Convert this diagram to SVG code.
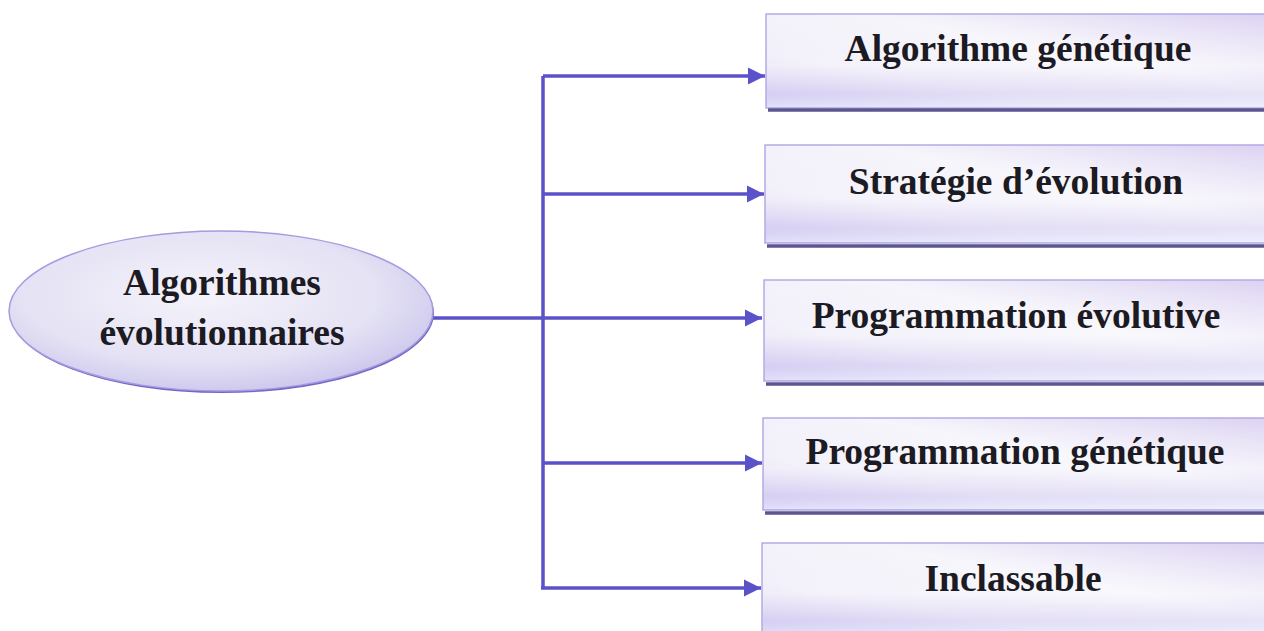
<svg xmlns="http://www.w3.org/2000/svg" width="1264" height="631" viewBox="0 0 1264 631">
<style>
.lbl{font-family:"Liberation Serif","Times New Roman",serif;font-weight:bold;font-size:37.5px;fill:#1c1a22;text-anchor:middle}
.conn{stroke:#5b52c9;stroke-width:3.5;fill:none}
.box{fill:url(#boxg);stroke:#b4aae6;stroke-width:1.5}
.boxv{fill:url(#boxv)}
.shadow{stroke:#5d5590;stroke-width:3.5}
</style>
<defs>
<linearGradient id="boxg" x1="0" y1="1" x2="1" y2="0">
<stop offset="0" stop-color="#d6ccf2"/>
<stop offset="0.3" stop-color="#eeebf8"/>
<stop offset="0.6" stop-color="#f6f5fb"/>
<stop offset="1" stop-color="#dcd2f2"/>
</linearGradient>
<linearGradient id="boxv" x1="0" y1="0" x2="0" y2="1">
<stop offset="0" stop-color="#ffffff" stop-opacity="0"/>
<stop offset="0.55" stop-color="#ffffff" stop-opacity="0.35"/>
<stop offset="0.85" stop-color="#cfc5f0" stop-opacity="0.35"/>
<stop offset="1" stop-color="#e8f0ff" stop-opacity="0.6"/>
</linearGradient>
<radialGradient id="ellg" cx="0.45" cy="0.4" r="0.6">
<stop offset="0" stop-color="#f4f3fa"/>
<stop offset="0.7" stop-color="#e4e2f4"/>
<stop offset="1" stop-color="#cfcaee"/>
</radialGradient>
<marker id="arr" viewBox="0 0 10 10" refX="10" refY="5" markerWidth="5" markerHeight="5" markerUnits="strokeWidth" orient="auto">
<path d="M0,0 L10,5 L0,10 Z" fill="#5b52c9"/>
</marker>
</defs>

<g id="connectors">
<path class="conn" d="M433,318 H762" marker-end="url(#arr)"/>
<path class="conn" d="M543,76 V588"/>
<path class="conn" d="M543,76 H765" marker-end="url(#arr)"/>
<path class="conn" d="M543,194 H764" marker-end="url(#arr)"/>
<path class="conn" d="M543,463 H762" marker-end="url(#arr)"/>
<path class="conn" d="M541,588 H761" marker-end="url(#arr)"/>
</g>

<g id="root">
<ellipse cx="222" cy="313" rx="212" ry="80" fill="#7466c4"/>
<ellipse cx="221" cy="311" rx="212" ry="80" fill="url(#ellg)" stroke="#a49ce0" stroke-width="1.5"/>
<text class="lbl" x="222" y="295">Algorithmes</text>
<text class="lbl" x="222" y="345">évolutionnaires</text>
</g>

<g id="n1">
<rect class="box" x="766" y="14" width="500" height="94"/>
<rect class="boxv" x="767" y="15" width="498" height="92"/>
<line class="shadow" x1="768" y1="110" x2="1264" y2="110"/>
<text class="lbl" x="1018" y="61">Algorithme génétique</text>
</g>

<g id="n2">
<rect class="box" x="765" y="145" width="501" height="98"/>
<rect class="boxv" x="766" y="146" width="499" height="96"/>
<line class="shadow" x1="767" y1="246" x2="1264" y2="246"/>
<text class="lbl" x="1016" y="194">Stratégie d’évolution</text>
</g>

<g id="n3">
<rect class="box" x="764" y="280" width="502" height="101"/>
<rect class="boxv" x="765" y="281" width="500" height="99"/>
<line class="shadow" x1="766" y1="384" x2="1264" y2="384"/>
<text class="lbl" x="1016" y="328">Programmation évolutive</text>
</g>

<g id="n4">
<rect class="box" x="763" y="418" width="503" height="92"/>
<rect class="boxv" x="764" y="419" width="501" height="90"/>
<line class="shadow" x1="765" y1="513" x2="1264" y2="513"/>
<text class="lbl" x="1015" y="464">Programmation génétique</text>
</g>

<g id="n5">
<rect class="box" x="762" y="543" width="504" height="92"/>
<rect class="boxv" x="763" y="544" width="502" height="90"/>
<text class="lbl" x="1013" y="591">Inclassable</text>
</g>
</svg>
